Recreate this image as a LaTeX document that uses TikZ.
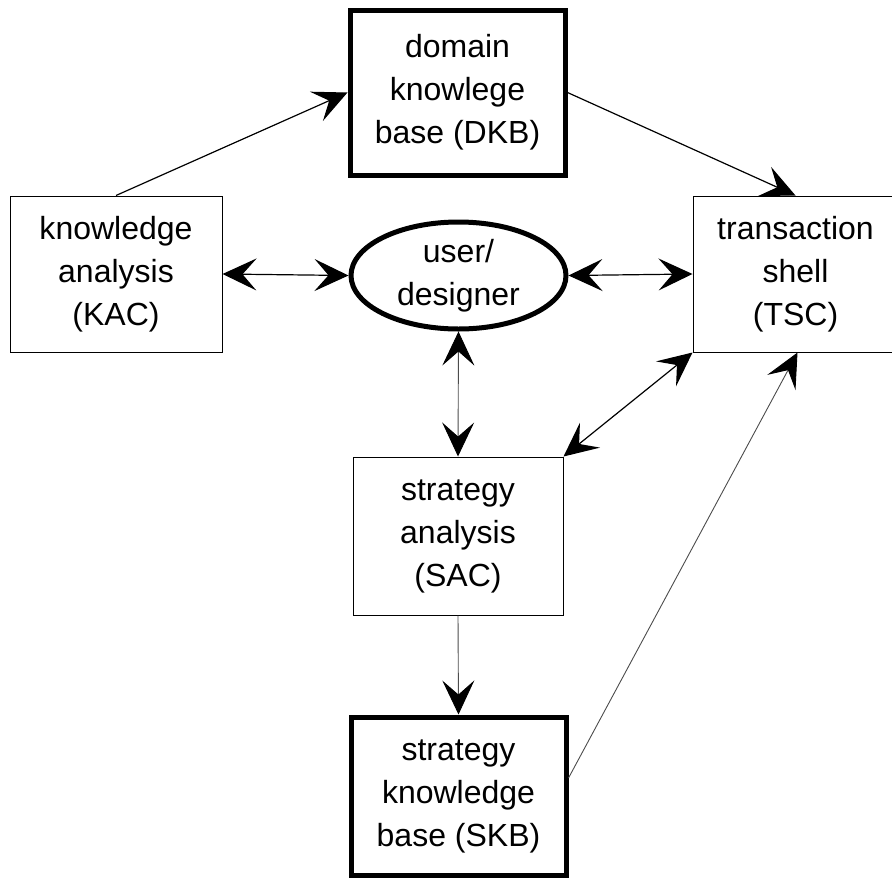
\documentclass[tikz,border=0pt]{standalone}
\usepackage{fontspec}
\setmainfont{Liberation Sans}
\usetikzlibrary{arrows.meta,shapes.geometric}

\tikzset{
  lbl/.style={font=\fontsize{16pt}{21.5pt}\selectfont, align=center, inner sep=0pt},
  thinbox/.style={lbl, draw, line width=0.5pt, rectangle},
  kbbox/.style={lbl, draw, line width=2.5pt, rectangle},
  userell/.style={lbl, draw, line width=2.5pt, ellipse},
  link/.style={line width=0.6pt,
    >={Stealth[length=17pt,width=16pt,inset=7pt,color=black]}},
  faint/.style={link, line width=0.45pt, draw=black!70},
}

\begin{document}
\begin{tikzpicture}[x=0.5pt,y=-0.5pt]
  \path[use as bounding box, clip] (0,0) rectangle (892,878);

  % components
  \node[kbbox, minimum width=107.5pt, minimum height=82.5pt] (dkb) at (457.5,92.5)
    {domain\\knowlege\\base (DKB)};
  \node[thinbox, minimum width=106pt, minimum height=78pt] (kac) at (116,274)
    {knowledge\\analysis\\(KAC)};
  \node[userell, minimum width=107.5pt, minimum height=53.5pt] (usr) at (458.5,275.5)
    {user/\\designer};
  \node[thinbox, minimum width=102.5pt, minimum height=78pt] (tsc) at (795.5,274)
    {transaction\\shell\\(TSC)};
  \node[thinbox, minimum width=105pt, minimum height=79pt] (sac) at (458,536)
    {strategy\\analysis\\(SAC)};
  \node[kbbox, minimum width=107.5pt, minimum height=79pt] (skb) at (458.5,796)
    {strategy\\knowledge\\base (SKB)};

  % connectors
  \draw[link,->] (kac.north) -- (dkb.west);
  \draw[link,->] (dkb.east) -- (tsc.north);
  \draw[link,<->] (kac.east) -- (usr.west);
  \draw[link,<->] (usr.east) -- (tsc.west);
  \draw[faint,<->] (usr.south) -- (sac.north);
  \draw[link,<->] (sac.north east) -- (tsc.south west);
  \draw[faint,->] (sac.south) -- (skb.north);
  \draw[faint,->] ([yshift=9pt]skb.east) -- ([xshift=1pt]tsc.south);
\end{tikzpicture}
\end{document}
